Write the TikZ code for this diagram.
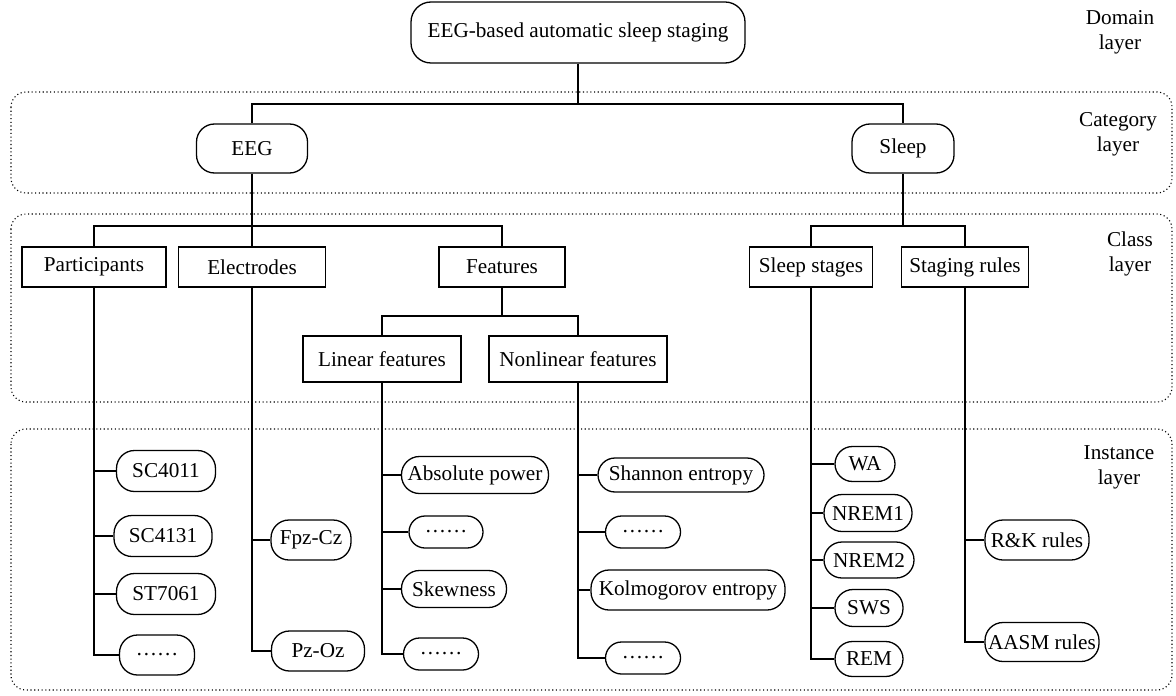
\documentclass[tikz,border=0pt]{standalone}
\usepackage{fontspec}
\setmainfont{Liberation Serif}
\begin{document}
\begin{tikzpicture}[x=0.5pt,y=-0.5pt,
  every node/.style={font=\fontsize{10.6}{12.5}\selectfont},
  conn/.style={line width=0.65pt,black},
  rbox/.style={draw,line width=0.65pt,rounded corners=9pt,inner sep=0pt,minimum height=#1},
  sbox/.style={draw,line width=0.65pt,inner sep=0pt,minimum height=20pt},
  ibox/.style={draw,line width=0.65pt,rounded corners=9pt,inner sep=0pt,minimum height=18.5pt},
  layerbox/.style={line width=0.55pt,dash pattern=on 0.55pt off 1.3pt,rounded corners=7.5pt},
  lab/.style={align=center,font=\fontsize{10.6}{12.5}\selectfont}]
\useasboundingbox (0,0) rectangle (1176,695);
% layer boxes
\draw[layerbox] (11,92) rectangle (1172,193);
\draw[layerbox] (11,214) rectangle (1172,402);
\draw[layerbox] (11,429) rectangle (1172,690);
% labels
\node[lab] (ldom) at (1120,32) {Domain\\layer};
\node[lab] (lcat) at (1118,134) {Category\\layer};
\node[lab] (lcls) at (1130,254) {Class\\layer};
\node[lab] (lins) at (1119,467) {Instance\\layer};
% domain
\node[rbox=30.5pt,minimum width=167pt,rounded corners=10pt] (top) at (578,32.5) {EEG-based automatic sleep staging};
% category
\node[rbox=24.5pt,minimum width=55.5pt] (eeg) at (252,148.5) {EEG};
\node[rbox=24.5pt,minimum width=51pt] (sleep) at (903,148.5) {Sleep};
% class
\node[sbox,minimum width=72pt] (part) at (94,267) {Participants};
\node[sbox,minimum width=73.5pt] (elec) at (252,267) {Electrodes};
\node[sbox,minimum width=63pt] (feat) at (502,267) {Features};
\node[sbox,minimum width=79pt,minimum height=23pt] (lin) at (382,359) {Linear features};
\node[sbox,minimum width=89pt,minimum height=23pt] (nonlin) at (578,359) {Nonlinear features};
\node[sbox,minimum width=61.5pt] (stages) at (811,267) {Sleep stages};
\node[sbox,minimum width=63.5pt] (rules) at (965,267) {Staging rules};
% instances
\node[ibox,minimum width=49.5pt,minimum height=20.5pt] (sc1) at (166,471) {SC4011};
\node[ibox,minimum width=49pt,minimum height=20.5pt] (sc2) at (163,536) {SC4131};
\node[ibox,minimum width=49.5pt,minimum height=20.5pt] (st) at (166,594) {ST7061};
\node[ibox,minimum width=37.5pt,minimum height=20pt] (pd) at (157,655) {……};
\node[ibox,minimum width=40pt,minimum height=20pt] (fpz) at (311,540) {Fpz-Cz};
\node[ibox,minimum width=46.5pt,minimum height=20pt] (pz) at (318,651) {Pz-Oz};
\node[ibox,minimum width=73.5pt] (abs) at (475,475) {Absolute power};
\node[ibox,minimum width=37pt,minimum height=16pt,rounded corners=8pt] (ld1) at (446,532) {……};
\node[ibox,minimum width=52.5pt] (skew) at (454,589) {Skewness};
\node[ibox,minimum width=37.5pt,minimum height=16pt,rounded corners=8pt] (ld2) at (441,654) {……};
\node[ibox,minimum width=83pt,minimum height=17pt,rounded corners=8.5pt] (shan) at (681,475) {Shannon entropy};
\node[ibox,minimum width=37.5pt,minimum height=16pt,rounded corners=8pt] (nd1) at (643,532) {……};
\node[ibox,minimum width=97pt,minimum height=20pt] (kol) at (688,590) {Kolmogorov entropy};
\node[ibox,minimum width=37.5pt,minimum height=16pt,rounded corners=8pt] (nd2) at (643,658) {……};
\node[ibox,minimum width=30pt,minimum height=17.5pt,rounded corners=8.75pt] (wa) at (865,464) {WA};
\node[ibox,minimum width=44pt] (n1) at (868,513) {NREM1};
\node[ibox,minimum width=45pt,minimum height=18pt] (n2) at (869,560) {NREM2};
\node[ibox,minimum width=34pt] (sws) at (869,608) {SWS};
\node[ibox,minimum width=34pt,minimum height=17.5pt,rounded corners=8.75pt] (rem) at (869,659) {REM};
\node[ibox,minimum width=52pt,minimum height=20pt] (rk) at (1037,540) {R\&K rules};
\node[ibox,minimum width=57pt,minimum height=19.5pt] (aasm) at (1042,642) {AASM rules};
% junction coordinates
\coordinate (j1) at (578,104);
\coordinate (j2) at (252,226);
\coordinate (j3) at (502,316);
\coordinate (j4) at (903,226);
% tree connectors
\draw[conn] (top.south) -- (j1);
\draw[conn] (eeg.north) -- (eeg.north |- j1) -- (sleep.north |- j1) -- (sleep.north);
\draw[conn] (eeg.south) -- (elec.north);
\draw[conn] (part.north) -- (part.north |- j2) -- (feat.north |- j2) -- (feat.north);
\draw[conn] (feat.south) -- (j3);
\draw[conn] (lin.north) -- (lin.north |- j3) -- (nonlin.north |- j3) -- (nonlin.north);
\draw[conn] (sleep.south) -- (j4);
\draw[conn] (stages.north) -- (stages.north |- j4) -- (rules.north |- j4) -- (rules.north);
% instance connectors
\foreach \c in {sc1,sc2,st,pd} \draw[conn] (part.south) |- (\c.west);
\foreach \c in {fpz,pz} \draw[conn] (elec.south) |- (\c.west);
\foreach \c in {abs,ld1,skew,ld2} \draw[conn] (lin.south) |- (\c.west);
\foreach \c in {shan,nd1,kol,nd2} \draw[conn] (nonlin.south) |- (\c.west);
\foreach \c in {wa,n1,n2,sws,rem} \draw[conn] (stages.south) |- (\c.west);
\foreach \c in {rk,aasm} \draw[conn] (rules.south) |- (\c.west);
\end{tikzpicture}
\end{document}
